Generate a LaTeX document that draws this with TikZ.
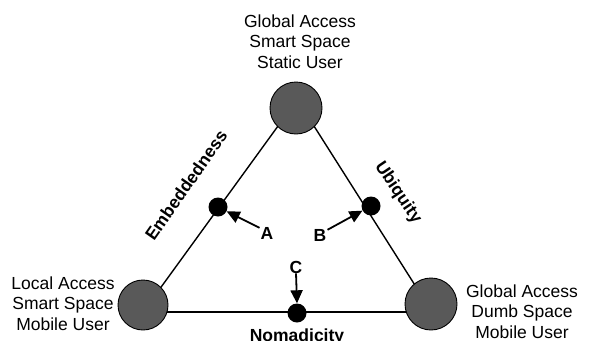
\documentclass[tikz,border=0pt]{standalone}
\usepackage{fontspec}
\setmainfont{Liberation Sans}
\usetikzlibrary{arrows.meta}
\begin{document}
\begin{tikzpicture}[x=1pt,y=-1pt,
  corner/.style={circle,draw=black,line width=0.9pt,fill=cornergray,inner sep=0pt},
  dot/.style={circle,fill=black,inner sep=0pt,minimum size=19pt},
  edge/.style={line width=1.4pt},
  pointer/.style={line width=1.8pt,-{Triangle[length=13pt,width=12pt]}},
  cornertext/.style={align=center,font=\fontsize{17.5}{20.5}\selectfont,inner sep=0pt},
  sidetext/.style={font=\fontsize{17.5}{20.5}\selectfont\bfseries,inner sep=0pt},
  letter/.style={font=\fontsize{17.5}{20.5}\selectfont\bfseries,inner sep=0pt}]
\definecolor{cornergray}{HTML}{595959}
\useasboundingbox (0,0) rectangle (593,340);

% triangle end points (hidden under the corner discs)
\coordinate (vTl) at (294,104);
\coordinate (vTr) at (300,104);
\coordinate (vL) at (143,312);
\coordinate (vR) at (432,312);

\draw[edge] (vL) -- (vTl);
\draw[edge] (vTr) -- (vR);
\draw[edge] (vL) -- (vR);

% corner discs
\node[corner,minimum size=52pt] (T) at (296,108) {};
\node[corner,minimum size=50pt] (L) at (143,305) {};
\node[corner,minimum size=52pt] (R) at (431,304) {};

% points on the sides
\node[dot] (A) at (218,207) {};
\node[dot] (B) at (371,206) {};
\node[dot] (C) at (297,313) {};

% corner captions (anchored at the baseline of their last line)
\node[cornertext,anchor=base] (tT) at (300,68) {Global Access\\Smart Space\\Static User};
\node[cornertext,anchor=base] (tL) at (63,330) {Local Access\\Smart Space\\Mobile User};
\node[cornertext,anchor=base] (tR) at (522,338) {Global Access\\Dumb Space\\Mobile User};

% side captions
\node[sidetext,rotate=55] (sE) at (186,185) {Embeddedness};
\node[sidetext,rotate=-56] (sU) at (398,193) {Ubiquity};
\node[sidetext,anchor=base] (sN) at (297,341) {Nomadicity};

% pointer letters
\node[letter] (lA) at (267,233) {A};
\node[letter] (lB) at (320,235) {B};
\node[letter] (lC) at (296,267) {C};

\draw[pointer] (lA.north west) ++(-1pt,-1pt) coordinate (aA) -- (A);
\draw[pointer] (lB.north east) ++(1pt,-1pt) coordinate (aB) -- (B);
\draw[pointer] (lC.south) -- (C.north);
\end{tikzpicture}
\end{document}
